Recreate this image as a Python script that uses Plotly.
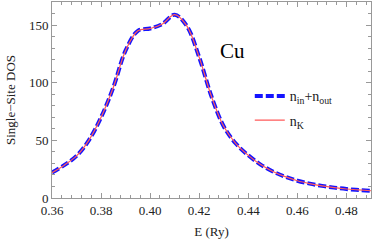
import plotly.graph_objects as go

energy = [0.360, 0.365, 0.370, 0.375, 0.380, 0.385, 0.390, 0.395, 0.400, 0.405,
          0.410, 0.415, 0.420, 0.425, 0.430, 0.435, 0.440, 0.445, 0.450, 0.455,
          0.460, 0.465, 0.470, 0.475, 0.480, 0.485, 0.490]
dos_in_out = [22, 28.5, 36.5, 50, 70, 96, 128, 145, 147, 151,
              159, 149, 122, 88, 62, 47, 37, 29, 23, 18.5,
              15, 12.5, 10.5, 9, 7.8, 7, 6.3]
dos_k = list(dos_in_out)

x_ticks = [0.36, 0.38, 0.40, 0.42, 0.44, 0.46, 0.48]
x_labels = ["0.36", "0.38", "0.40", "0.42", "0.44", "0.46", "0.48"]
y_ticks = [0, 50, 100, 150]

font = "Liberation Serif"

fig = go.Figure()
fig.add_trace(go.Scatter(x=energy, y=dos_in_out, mode="lines", legendgroup="a",
                         name="n<sub>in</sub>+n<sub>out</sub>",
                         line=dict(color="#1414ff", width=4, dash="8px,3px", shape="spline")))
fig.add_trace(go.Scatter(x=energy, y=dos_k, mode="lines", name="n<sub>K</sub>", legendgroup="b",
                         line=dict(color="#ff5a5a", width=1.2, shape="spline")))

fig.add_annotation(x=0.565, y=0.75, xref="paper", yref="paper", text="Cu",
                   xanchor="center", yanchor="middle",
                   showarrow=False, font=dict(family=font, size=21, color="black"))

axis_common = dict(showline=True, linecolor="#999999", linewidth=1, mirror="ticks",
                   ticks="inside", ticklen=5, tickcolor="#999999", showgrid=False,
                   zeroline=False, tickfont=dict(family=font, size=13, color="#222"))

fig.update_layout(
    width=374, height=245,
    margin=dict(l=52, r=3, t=2, b=47),
    plot_bgcolor="white", paper_bgcolor="white",
    showlegend=True,
    legend=dict(x=0.62, y=0.6, xanchor="left", yanchor="top",
                font=dict(family=font, size=14, color="#222"),
                bgcolor="rgba(0,0,0,0)", tracegroupgap=3, itemwidth=30),
    xaxis=dict(range=[0.36, 0.49], tickvals=x_ticks, ticktext=x_labels,
               minor=dict(dtick=0.004, tick0=0.36, ticks="inside", ticklen=3, tickcolor="#999999"),
               title=dict(text="E (Ry)", font=dict(family=font, size=13, color="#222"), standoff=10),
               **axis_common),
    yaxis=dict(range=[0, 170], tickvals=y_ticks,
               minor=dict(dtick=10, tick0=0, ticks="inside", ticklen=3, tickcolor="#999999"),
               title=dict(text="Single−Site DOS", font=dict(family=font, size=13, color="#222"), standoff=10),
               **axis_common),
)

fig.write_html("out.html", config={"displayModeBar": False},
               post_script="document.body.style.margin='0';document.body.style.overflow='hidden';")
